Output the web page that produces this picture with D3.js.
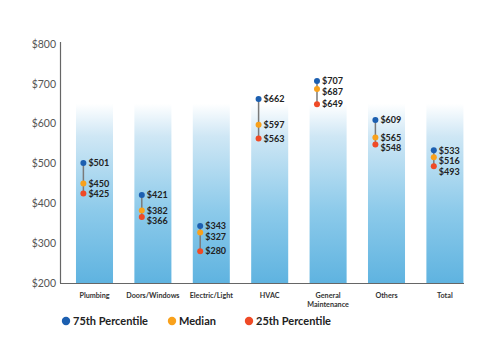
<!DOCTYPE html>
<html><head><meta charset="utf-8">
<script src="https://cdn.jsdelivr.net/npm/d3@7"></script>
<style>body{margin:0;background:#fff}svg{display:block}</style>
</head><body><svg id="c" width="500" height="357"></svg>
<script>
const categories = ["Plumbing","Doors/Windows","Electric/Light","HVAC","General Maintenance","Others","Total"];
const p75 = [501,421,343,662,707,609,533];
const median = [450,382,327,597,687,565,516];
const p25 = [425,366,280,563,649,548,493];
const backdropTop = 650;
const yTicks = [200,300,400,500,600,700,800];
const seriesNames = ["75th Percentile","Median","25th Percentile"];
const colors = ["#1c5fb0","#f9a11b","#ef4a26"];

const svg = d3.select("#c");
const y = d3.scaleLinear().domain([200,800]).range([283,44]);
const x = d3.scaleBand().domain(categories).range([64.3,475.1]).paddingInner(0.366).paddingOuter(0.2);

const defs = svg.append("defs");
const g = defs.append("linearGradient").attr("id","bg").attr("x1",0).attr("y1",0).attr("x2",0).attr("y2",1);
g.append("stop").attr("offset","0%").attr("stop-color","#ffffff");
g.append("stop").attr("offset","18%").attr("stop-color","#cfe7f5");
g.append("stop").attr("offset","60%").attr("stop-color","#8ccaea");
g.append("stop").attr("offset","100%").attr("stop-color","#5fb3e0");

svg.append("g").selectAll("rect").data(categories).join("rect")
  .attr("x",d=>x(d)).attr("width",x.bandwidth())
  .attr("y",y(backdropTop)).attr("height",y(200)-y(backdropTop))
  .attr("fill","url(#bg)");

// axes
svg.append("line").attr("x1",60.5).attr("x2",60.5).attr("y1",y(800)-2).attr("y2",y(200)).attr("stroke","#666").attr("stroke-width",1.2);
svg.append("line").attr("x1",60).attr("x2",464).attr("y1",y(200)+0.5).attr("y2",y(200)+0.5).attr("stroke","#666").attr("stroke-width",1.2);

svg.append("g").selectAll("text").data(yTicks).join("text")
  .attr("x",56).attr("y",d=>y(d)).attr("dy","0.35em").attr("text-anchor","end")
  .attr("font-family","Lato, sans-serif").attr("font-size",10.5).attr("fill","#555")
  .text(d=>"$"+d);

// category labels
const cl = svg.append("g").selectAll("text").data(categories).join("text")
  .attr("x",d=>x(d)+x.bandwidth()/2).attr("y",298).attr("text-anchor","middle")
  .attr("font-family","Lato, sans-serif").attr("font-weight","bold").attr("font-size",7.2).attr("fill","#333");
cl.each(function(d){
  const parts = d==="General Maintenance" ? ["General","Maintenance"] : [d];
  d3.select(this).selectAll("tspan").data(parts).join("tspan")
    .attr("x",x(d)+x.bandwidth()/2).attr("dy",(p,i)=>i?9:0).text(p=>p);
});

const dx = c => x(c) + x.bandwidth()*0.2;
// connectors
svg.append("g").selectAll("line").data(categories).join("line")
  .attr("x1",dx).attr("x2",dx)
  .attr("y1",(c,i)=>y(p75[i])).attr("y2",(c,i)=>y(p25[i]))
  .attr("stroke","#7a7a7a").attr("stroke-width",1.5);

// label positions with minimum spacing
const series = [p75,median,p25];
const labelY = categories.map((c,i)=>{
  const ys = series.map(a=>y(a[i]));
  for(let k=1;k<ys.length;k++) if(ys[k]<ys[k-1]+10.5) ys[k]=ys[k-1]+10.5;
  return ys;
});

series.forEach((arr,k)=>{
  const gg = svg.append("g");
  gg.selectAll("circle").data(categories).join("circle")
    .attr("cx",dx).attr("cy",(c,i)=>y(arr[i])).attr("r",3).attr("fill",colors[k]);
  gg.selectAll("text").data(categories).join("text")
    .attr("x",c=>dx(c)+5).attr("y",(c,i)=>labelY[i][k]).attr("dy","0.35em")
    .attr("font-family","Lato, sans-serif").attr("font-weight","bold").attr("font-size",9).attr("fill","#222")
    .text((c,i)=>"$"+arr[i]);
});

// legend
const legX = [66,172,249];
const lg = svg.append("g").selectAll("g").data(seriesNames).join("g")
  .attr("transform",(d,i)=>`translate(${legX[i]},321)`);
lg.append("circle").attr("r",4.2).attr("fill",(d,i)=>colors[i]);
lg.append("text").attr("x",7).attr("dy","0.35em")
  .attr("font-family","Lato, sans-serif").attr("font-weight","bold").attr("font-size",11).attr("fill","#222")
  .text(d=>d);
</script></body></html>
